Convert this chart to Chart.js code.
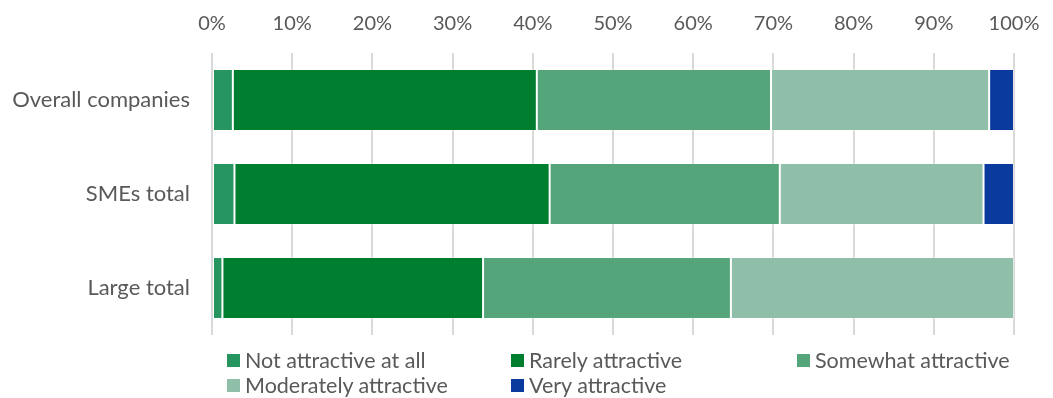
<!DOCTYPE html>
<html>
<head>
<meta charset="utf-8">
<script src="https://cdn.jsdelivr.net/npm/chart.js@4/dist/chart.umd.min.js"></script>
<style>
  html, body { margin: 0; padding: 0; background: #ffffff; }
  #wrap { position: relative; width: 1053px; height: 398px; }
  #chart { position: absolute; left: 0; top: 0; }
  #legend { position: absolute; left: 0; top: 0; width: 1053px; height: 398px; pointer-events: none;
            font-family: "Lato", "Open Sans", sans-serif; font-size: 21.5px; color: #595959; }
  .item { position: absolute; display: flex; align-items: center; white-space: nowrap; }
  .box { width: 13px; height: 13px; margin-right: 5px; }
</style>
</head>
<body>
<div id="wrap">
  <canvas id="chart" width="1053" height="398"></canvas>
  <div id="legend"></div>
</div>
<script>
// Survey: how attractive companies rate the offer, share of answers per group (%)
const categories = ["Overall companies", "SMEs total", "Large total"];
const notAttractive = [2.6, 2.8, 1.3];
const rarelyAttractive = [37.9, 39.3, 32.5];
const somewhatAttractive = [29.2, 28.7, 30.9];
const moderatelyAttractive = [27.2, 25.4, 35.3];
const veryAttractive = [3.1, 3.8, 0];
const tickValues = [0, 10, 20, 30, 40, 50, 60, 70, 80, 90, 100];

const seriesNames = ["Not attractive at all", "Rarely attractive", "Somewhat attractive",
                     "Moderately attractive", "Very attractive"];
const seriesColors = ["#26955f", "#007e2f", "#55a57b", "#8fbfa8", "#0a3a9e"];
const seriesValues = [notAttractive, rarelyAttractive, somewhatAttractive, moderatelyAttractive, veryAttractive];

const textColor = "#595959";
const fontFamily = '"Lato", "Open Sans", sans-serif';

const datasets = seriesNames.map((name, i) => ({
  label: name,
  data: seriesValues[i],
  backgroundColor: seriesColors[i],
  borderColor: "rgba(255,255,255,0.3)",
  borderWidth: 1,
  borderSkipped: false,
  categoryPercentage: 1,
  barPercentage: 0.66
}));

const chart = new Chart(document.getElementById("chart"), {
  type: "bar",
  data: { labels: categories, datasets },
  options: {
    indexAxis: "y",
    responsive: false,
    animation: false,
    layout: { padding: { left: 0, right: 39, top: 0, bottom: 63 } },
    plugins: { legend: { display: false }, tooltip: { enabled: false } },
    scales: {
      x: {
        position: "top",
        stacked: true,
        min: 0,
        max: 100,
        afterBuildTicks: (axis) => { axis.ticks = tickValues.map(v => ({ value: v })); },
        afterFit: (axis) => { axis.height = 53; axis.paddingLeft = 0; axis.paddingRight = 0; },
        ticks: {
          callback: (v) => v + "%",
          color: textColor,
          font: { family: fontFamily, size: 20 },
          padding: 17,
          maxRotation: 0
        },
        grid: { color: "#d9d9d9", lineWidth: 2, drawTicks: false },
        border: { display: false }
      },
      y: {
        stacked: true,
        afterFit: (axis) => { axis.width = 212; },
        ticks: {
          color: textColor,
          font: { family: fontFamily, size: 22 },
          padding: 14
        },
        grid: { display: false },
        border: { display: false }
      }
    }
  }
});

// Legend laid out in three columns below the plot
const legendSlots = [
  { x: 227, y: 360 }, { x: 511, y: 360 }, { x: 797, y: 360 },
  { x: 227, y: 385 }, { x: 511, y: 385 }
];
const legendEl = document.getElementById("legend");
chart.data.datasets.forEach((ds, i) => {
  const item = document.createElement("div");
  item.className = "item";
  item.style.left = legendSlots[i].x + "px";
  item.style.top = (legendSlots[i].y - 12) + "px";
  item.style.height = "24px";
  const box = document.createElement("span");
  box.className = "box";
  box.style.background = ds.backgroundColor;
  const label = document.createElement("span");
  label.textContent = ds.label;
  item.appendChild(box);
  item.appendChild(label);
  legendEl.appendChild(item);
});
</script>
</body>
</html>
